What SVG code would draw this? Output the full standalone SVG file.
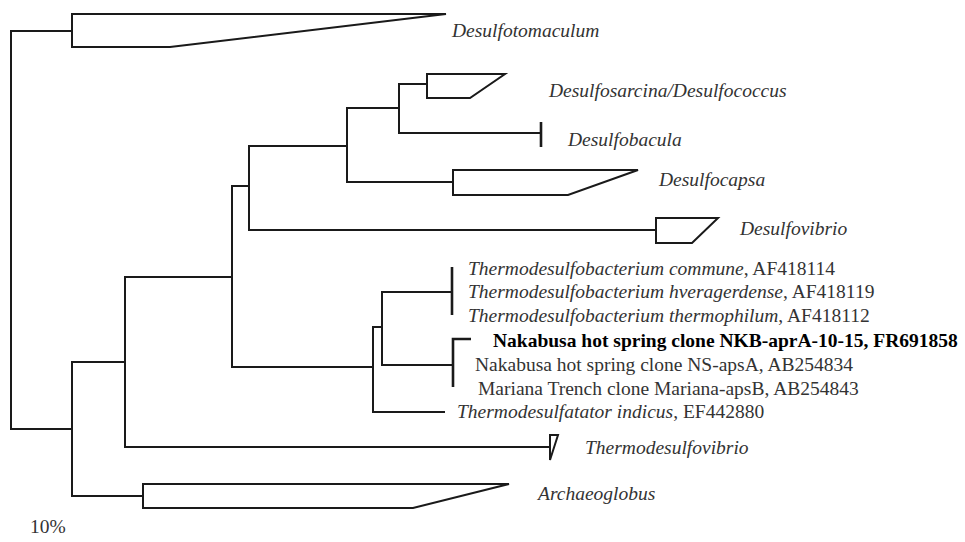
<svg xmlns="http://www.w3.org/2000/svg" width="965" height="542" viewBox="0 0 965 542">
<style>
.br{stroke:#1a1a1a;stroke-width:2;fill:none;stroke-linecap:square;stroke-linejoin:miter}
.cl{stroke:#1a1a1a;stroke-width:2;fill:#fff;stroke-linejoin:miter}
.bar{stroke:#1a1a1a;stroke-width:2.6;fill:none}
.lab{font-family:"Liberation Serif","Times New Roman",serif;font-size:19.5px;fill:#333}
.it{font-style:italic}
.bd{font-weight:bold;fill:#000}
</style>
<rect width="965" height="542" fill="#fff"/>
<g id="connectors" class="br">
<path d="M72,31 H11 V429 H72"/>
<path d="M72,362 V496"/>
<path d="M72,362 H125"/>
<path d="M72,496 H143"/>
<path d="M125,277 V447 H550"/>
<path d="M125,277 H232"/>
<path d="M232,186 V367"/>
<path d="M232,186 H249"/>
<path d="M249,146 V230 H656"/>
<path d="M249,146 H347"/>
<path d="M347,108 V182 H453"/>
<path d="M347,108 H399"/>
<path d="M399,84 V133 H541"/>
<path d="M399,84 H427"/>
<path d="M232,367 H373"/>
<path d="M373,327 V412 H444"/>
<path d="M373,327 H382"/>
<path d="M382,292 V365 H453"/>
<path d="M382,292 H452"/>
</g>
<g id="desulfotomaculum">
<polygon class="cl" points="72,14 446,14 170,47 72,47"/>
<text class="lab it" x="452" y="37">Desulfotomaculum</text>
</g>
<g id="desulfosarcina">
<polygon class="cl" points="427,74 505,74 470,98 427,98"/>
<text class="lab it" x="549" y="97">Desulfosarcina/Desulfococcus</text>
</g>
<g id="desulfobacula">
<line class="bar" x1="541" y1="122" x2="541" y2="147"/>
<text class="lab it" x="568" y="146">Desulfobacula</text>
</g>
<g id="desulfocapsa">
<polygon class="cl" points="453,170 638,170 568,195 453,195"/>
<text class="lab it" x="659" y="186">Desulfocapsa</text>
</g>
<g id="desulfovibrio">
<polygon class="cl" points="656,218 718,218 692,243 656,243"/>
<text class="lab it" x="740" y="235">Desulfovibrio</text>
</g>
<g id="thermodesulfobacterium">
<line class="bar" x1="452" y1="267" x2="452" y2="315"/>
<text class="lab" x="468" y="275"><tspan class="it">Thermodesulfobacterium commune</tspan>, AF418114</text>
<text class="lab" x="468" y="298"><tspan class="it">Thermodesulfobacterium hveragerdense</tspan>, AF418119</text>
<text class="lab" x="468" y="322"><tspan class="it">Thermodesulfobacterium thermophilum</tspan>, AF418112</text>
</g>
<g id="nakabusa">
<polyline class="bar" points="471,339 453,339 453,387"/>
<text class="lab bd" x="493" y="347">Nakabusa hot spring clone NKB-aprA-10-15, FR691858</text>
<text class="lab" x="475" y="371">Nakabusa hot spring clone NS-apsA, AB254834</text>
<text class="lab" x="478" y="395">Mariana Trench clone Mariana-apsB, AB254843</text>
</g>
<g id="thermodesulfatator">
<text class="lab" x="457" y="418"><tspan class="it">Thermodesulfatator indicus</tspan>, EF442880</text>
</g>
<g id="thermodesulfovibrio">
<polygon class="cl" points="550,435 558,435 550,460"/>
<text class="lab it" x="585" y="454">Thermodesulfovibrio</text>
</g>
<g id="archaeoglobus">
<polygon class="cl" points="143,484 509,484 413,508 143,508"/>
<text class="lab it" x="538" y="500">Archaeoglobus</text>
</g>
<g id="scale">
<text class="lab" x="30" y="533">10%</text>
</g>
</svg>
